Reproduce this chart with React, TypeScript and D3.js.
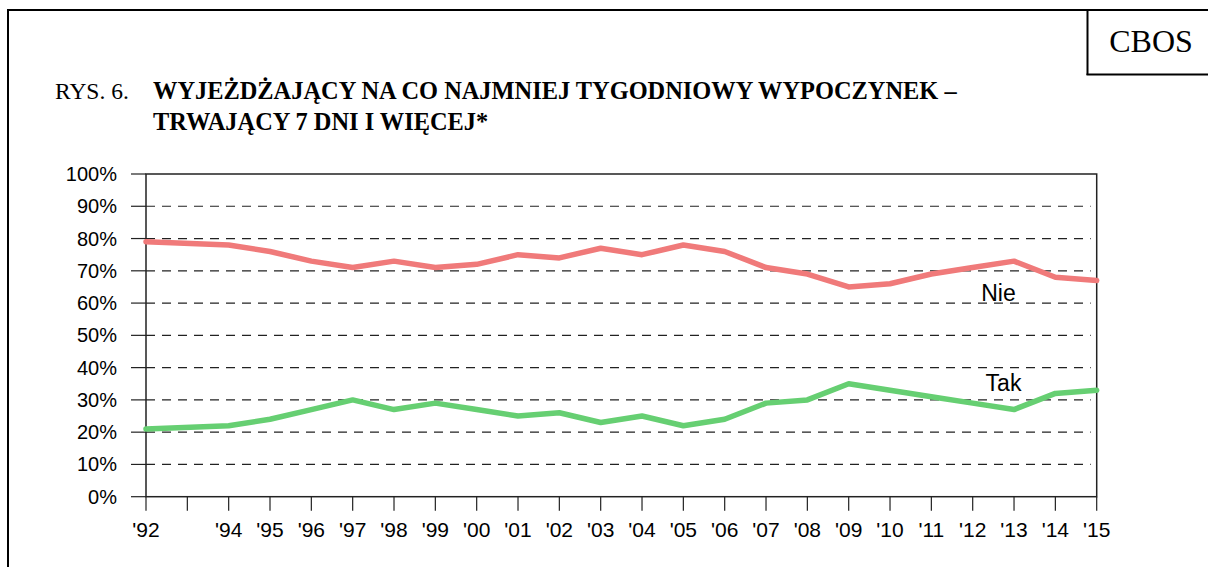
import React from "react";
import * as d3 from "d3";

const years = [1992, 1994, 1995, 1996, 1997, 1998, 1999, 2000, 2001, 2002, 2003, 2004, 2005, 2006, 2007, 2008, 2009, 2010, 2011, 2012, 2013, 2014, 2015];
const nieValues = [79, 78, 76, 73, 71, 73, 71, 72, 75, 74, 77, 75, 78, 76, 71, 69, 65, 66, 69, 71, 73, 68, 67];
const takValues = [21, 22, 24, 27, 30, 27, 29, 27, 25, 26, 23, 25, 22, 24, 29, 30, 35, 33, 31, 29, 27, 32, 33];
const xTickYears = [1992, 1993, 1994, 1995, 1996, 1997, 1998, 1999, 2000, 2001, 2002, 2003, 2004, 2005, 2006, 2007, 2008, 2009, 2010, 2011, 2012, 2013, 2014, 2015];
const xTickLabels = ["'92", "", "'94", "'95", "'96", "'97", "'98", "'99", "'00", "'01", "'02", "'03", "'04", "'05", "'06", "'07", "'08", "'09", "'10", "'11", "'12", "'13", "'14", "'15"];
const yTicks = [0, 10, 20, 30, 40, 50, 60, 70, 80, 90, 100];
const titlePrefix = "RYS. 6.";
const titleLines = ["WYJEŻDŻAJĄCY NA CO NAJMNIEJ TYGODNIOWY WYPOCZYNEK –", "TRWAJĄCY 7 DNI I WIĘCEJ*"];
const seriesNames = ["Nie", "Tak"];

const W = 1208;
const H = 567;
const plot = { left: 146, right: 1096.7, top: 174, bottom: 496.7 };

const serif = "'Liberation Serif', 'Times New Roman', serif";
const sans = "'Liberation Sans', Arial, sans-serif";

export default function App() {
  const x = d3.scaleLinear().domain([1992, 2015]).range([plot.left, plot.right]);
  const y = d3.scaleLinear().domain([0, 100]).range([plot.bottom, plot.top]);
  const line = d3
    .line<number>()
    .x((_, i) => x(years[i]))
    .y((d) => y(d));

  return (
    <div style={{ position: "absolute", left: 0, top: 0 }}>
      <svg width={W} height={H} style={{ display: "block", background: "#fff" }}>
        {/* outer frame */}
        <line x1={8} y1={10} x2={W} y2={10} stroke="#000" strokeWidth={2} />
        <line x1={8} y1={9} x2={8} y2={H} stroke="#000" strokeWidth={2} />
        {/* CBOS box */}
        <line x1={1087.5} y1={10} x2={1087.5} y2={75} stroke="#000" strokeWidth={2} />
        <line x1={1086.5} y1={74.5} x2={W} y2={74.5} stroke="#000" strokeWidth={2} />
        <text x={1151} y={52} textAnchor="middle" fontFamily={serif} fontSize={32} fill="#000">
          CBOS
        </text>

        {/* title */}
        <text x={55} y={99} fontFamily={serif} fontSize={23.5} fill="#000">
          {titlePrefix}
        </text>
        {titleLines.map((t, i) => (
          <text key={i} x={153} y={99 + i * 31} fontFamily={serif} fontWeight="bold" fontSize={24.4} fill="#000">
            {t}
          </text>
        ))}

        {/* gridlines */}
        {yTicks.map((t) => (
          <g key={t}>
            {t > 0 && t < 100 && (
              <line
                x1={plot.left}
                x2={plot.right - 6}
                y1={y(t)}
                y2={y(t)}
                stroke="#222"
                strokeWidth={1.2}
                strokeDasharray="9,7"
              />
            )}
            <line x1={plot.left - 15} x2={plot.left} y1={y(t)} y2={y(t)} stroke="#222" strokeWidth={1.2} />
            <text
              x={117}
              y={y(t) + 7}
              textAnchor="end"
              fontFamily={sans}
              fontSize={20}
              fill="#000"
            >
              {t}%
            </text>
          </g>
        ))}

        {/* plot box */}
        <rect
          x={plot.left}
          y={plot.top}
          width={plot.right - plot.left}
          height={plot.bottom - plot.top}
          fill="none"
          stroke="#222"
          strokeWidth={1.5}
        />

        {/* x ticks */}
        {xTickYears.map((yr, i) => (
          <g key={yr}>
            <line x1={x(yr)} x2={x(yr)} y1={plot.bottom} y2={plot.bottom + 14} stroke="#222" strokeWidth={1.2} />
            {xTickLabels[i] && (
              <text x={x(yr)} y={536.5} textAnchor="middle" fontFamily={sans} fontSize={21} fill="#000">
                {xTickLabels[i]}
              </text>
            )}
          </g>
        ))}

        {/* series */}
        <path d={line(nieValues) || ""} fill="none" stroke="#f07a7a" strokeWidth={5.5} strokeLinejoin="round" strokeLinecap="round" />
        <path d={line(takValues) || ""} fill="none" stroke="#66cf72" strokeWidth={5.5} strokeLinejoin="round" strokeLinecap="round" />

        {/* series labels */}
        <text x={998.5} y={300.5} textAnchor="middle" fontFamily={sans} fontSize={23} fill="#000">
          {seriesNames[0]}
        </text>
        <text x={1003.5} y={390.5} textAnchor="middle" fontFamily={sans} fontSize={23} fill="#000">
          {seriesNames[1]}
        </text>
      </svg>
    </div>
  );
}
